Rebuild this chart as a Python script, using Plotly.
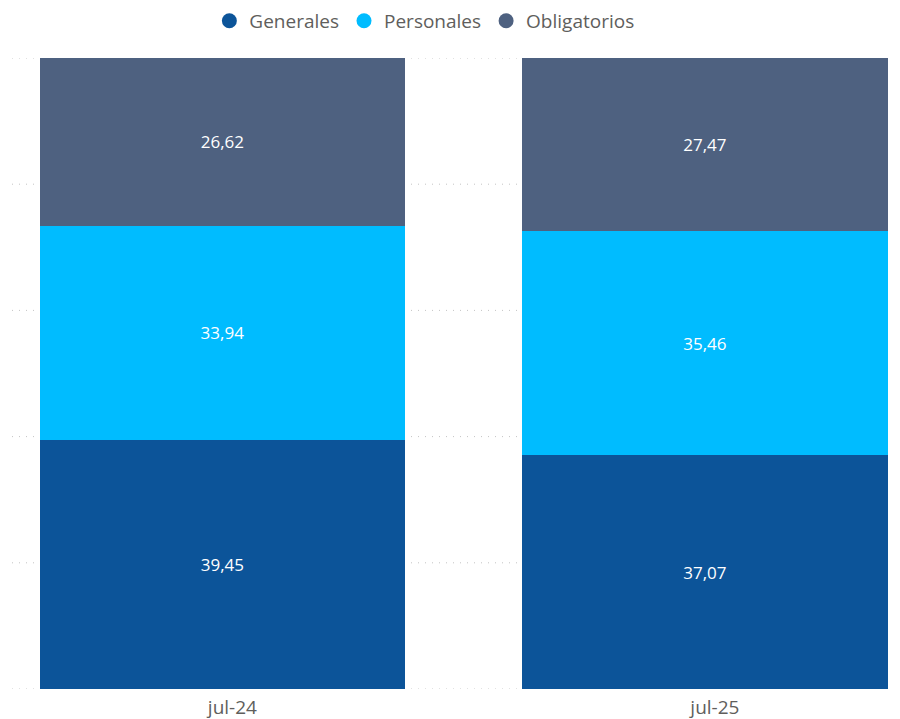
import plotly.graph_objects as go

categories = ["jul-24", "jul-25"]
series_names = ["Generales", "Personales", "Obligatorios"]
generales = [39.45, 37.07]
personales = [33.94, 35.46]
obligatorios = [26.62, 27.47]
colors = ["#0C5499", "#00BCFF", "#4E6180"]
grid_values = [0, 20, 40, 60, 80, 100]

def fmt(v):
    return f"{v:.2f}".replace(".", ",")

fig = go.Figure()
for name, vals, col in zip(series_names, [generales, personales, obligatorios], colors):
    fig.add_trace(go.Bar(
        x=categories, y=vals, name=name, marker_color=col,
        marker_line_width=0, width=0.757,
        text=[fmt(v) for v in vals], textposition="inside",
        insidetextanchor="middle",
        textfont=dict(color="white", size=17, family="Open Sans"),
        showlegend=False, hoverinfo="skip",
    ))
for name, col in zip(series_names, colors):
    fig.add_trace(go.Scatter(
        x=[None], y=[None], mode="markers", name=name,
        marker=dict(color=col, size=15, symbol="circle"),
        showlegend=True,
    ))

for g in grid_values:
    fig.add_shape(type="line", xref="paper", yref="y", x0=0, x1=1, y0=g, y1=g,
                  line=dict(color="#C4C4C4", width=1, dash="1px,6px"), layer="below")

fig.update_layout(
    barmode="stack",
    width=900, height=719,
    margin=dict(l=4, r=13, t=50, b=38, autoexpand=False),
    paper_bgcolor="white", plot_bgcolor="white",
    font=dict(family="Open Sans", color="#605E5C"),
    legend=dict(orientation="h", x=0.467, xanchor="center", yref="container",
                y=0.982, yanchor="middle", traceorder="normal",
                font=dict(size=19, color="#605E5C"), itemwidth=30),
)
fig.update_xaxes(range=[-0.436, 1.394], showgrid=False, showline=False, ticks="",
                 tickfont=dict(size=19, color="#605E5C"), zeroline=False,
                 ticklabelshift=10, ticklabelstandoff=5)
fig.update_yaxes(range=[0, 100], showgrid=False, showticklabels=False, zeroline=False,
                 showline=False)

fig.write_html("out.html")
